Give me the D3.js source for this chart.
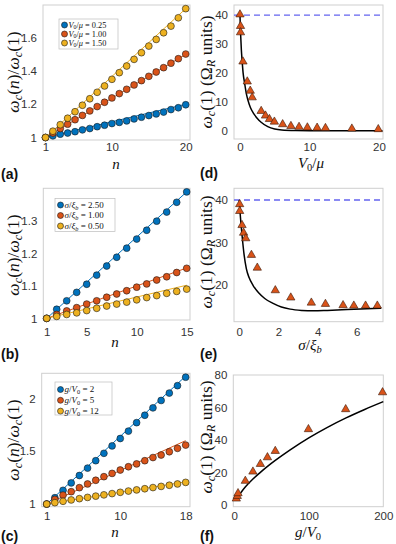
<!DOCTYPE html>
<html>
<head>
<meta charset="utf-8">
<script src="https://cdn.jsdelivr.net/npm/d3@7"></script>
<style>
  body { margin: 0; background: #fff; }
  svg { display: block; }
</style>
</head>
<body>
<svg id="fig" width="396" height="544"></svg>
<script>
// ---- data ----
const nA = [1,2,3,4,5,6,7,8,9,10,11,12,13,14,15,16,17,18,19,20];
const aBlue   = [1.000,1.010,1.020,1.027,1.035,1.046,1.054,1.065,1.074,1.084,1.091,1.100,1.112,1.122,1.132,1.142,1.153,1.168,1.179,1.197];
const aRed    = [1.000,1.027,1.054,1.080,1.107,1.133,1.160,1.186,1.212,1.238,1.264,1.290,1.316,1.342,1.368,1.394,1.420,1.447,1.474,1.502];
const aYellow = [1.000,1.038,1.077,1.116,1.155,1.194,1.233,1.272,1.310,1.350,1.390,1.430,1.470,1.510,1.550,1.590,1.630,1.670,1.720,1.775];
const aFitEnd = [1.200, 1.500, 1.775];
const aLegend = ['0.25', '1.00', '1.50'];

const nB = [1,2,3,4,5,6,7,8,9,10,11,12,13,14,15];
const bBlue   = [1.000,1.028,1.054,1.080,1.105,1.133,1.161,1.188,1.216,1.244,1.271,1.299,1.327,1.357,1.389];
const bRed    = [1.000,1.012,1.023,1.033,1.044,1.054,1.065,1.075,1.085,1.096,1.106,1.118,1.128,1.141,1.154];
const bYellow = [1.000,1.006,1.012,1.017,1.024,1.031,1.038,1.044,1.050,1.057,1.064,1.070,1.077,1.083,1.090];
const bFitEnd = [1.389, 1.155, 1.102];
const bLegend = ['2.50', '1.00', '0.50'];

const nC = [1,2,3,4,5,6,7,8,9,10,11,12,13,14,15,16,17,18];
const cBlue   = [1.00,1.06,1.13,1.20,1.27,1.34,1.41,1.48,1.55,1.62,1.69,1.77,1.84,1.91,1.98,2.05,2.12,2.20];
const cRed    = [1.000,1.044,1.085,1.117,1.155,1.190,1.225,1.259,1.290,1.322,1.353,1.380,1.410,1.440,1.464,1.495,1.527,1.558];
const cYellow = [1.000,1.013,1.026,1.039,1.051,1.063,1.075,1.087,1.099,1.111,1.123,1.134,1.145,1.156,1.167,1.178,1.190,1.205];
const cFitEnd = [2.210, 1.600, 1.210];
const cLegend = ['2', '5', '12'];

const dX = [0.0,0.08,0.08,0.43,1.05,1.48,1.76,3.05,3.67,4.24,4.95,6.14,7.33,8.5,9.7,11.1,12.3,16.1,19.9];
const dY = [40.2,36.2,34.0,23.9,17.0,13.8,11.5,6.8,5.2,4.0,3.1,2.2,1.6,1.3,1.1,1.0,0.9,0.7,0.5];
const dCurveX = [0,0.05,0.1,0.2,0.3,0.45,0.67,0.9,1.14,1.5,2.0,2.5,3,4,5,6,8,10,14,20.5];
const dCurveY = [40,36,33,27.9,24.5,20,16.4,13,10.6,8,5.8,4.2,3,1.4,0.6,0.25,0.05,0,0,0];

const eX = [0.02,0.02,0.14,0.22,0.33,0.62,0.92,1.84,2.63,3.68,4.4,5.3,5.85,6.45,7.05];
const eY = [39.0,37.4,34.1,32.3,31.0,27.1,24.1,18.8,17.1,15.9,15.6,15.3,15.2,15.2,15.2];
const eCurveX = [0,0.05,0.14,0.25,0.36,0.5,0.7,1.0,1.3,1.7,2.15,2.6,3.2,3.8,4.5,5.5,6.5,7.25];
const eCurveY = [40,36.5,31.8,27,23.9,21.8,20,18.2,16.9,15.8,14.9,14.4,14.1,14.0,14.1,14.3,14.5,14.6];

const fX = [2.7,4,5,14.8,25,35,44.5,55,99.5,149.5,199];
const fY = [3.9,5.5,7.2,14.8,20.5,25.2,29.3,33.2,46.6,58.9,69.3];
const fCurveX = [3,5,10,15,25,35,45,55,75,100,125,150,175,200];
const fCurveY = [3.4,5.0,8.3,11.2,16.0,20.1,23.9,27.4,33.9,41.3,47.8,53.6,58.8,63.6];

const limitLine = 40;

// ---- styling ----
const colors = ['#0072BD', '#D95319', '#EDB120'];
const tickFont = "'Liberation Sans', Arial, sans-serif";
const mathFont = "'Liberation Serif', 'Times New Roman', serif";
const svg = d3.select('#fig');

// math-ish text: parts are [string, style]; style i=italic, r=roman, si/sr=subscript
function mathText(g, parts, size) {
    const t = g.append('text')
        .attr('font-family', mathFont)
        .attr('font-size', size)
        .attr('fill', '#111');
    let sub = false;
    parts.forEach(([s, st]) => {
        const isSub = st[0] === 's' && st.length === 2;
        const ts = t.append('tspan').text(s)
            .attr('font-style', st.endsWith('i') ? 'italic' : 'normal');
        if (isSub) ts.attr('font-size', size * 0.7);
        if (isSub && !sub) ts.attr('dy', size * 0.18);
        if (!isSub && sub) ts.attr('dy', -size * 0.18);
        sub = isSub;
    });
    return t;
}

function panel(o) {
    const x = d3.scaleLinear().domain(o.xdom).range([o.left, o.right]);
    const y = d3.scaleLinear().domain(o.ydom).range([o.bottom, o.top]);

    svg.append('rect')
        .attr('x', o.left).attr('y', o.top)
        .attr('width', o.right - o.left).attr('height', o.bottom - o.top)
        .attr('fill', '#fff').attr('stroke', '#cfcfcf').attr('stroke-width', 1);

    const xa = svg.append('g')
        .attr('transform', `translate(0, ${o.bottom})`)
        .call(d3.axisBottom(x).tickValues(o.xticks).tickSize(0).tickPadding(o.xpad).tickFormat(d3.format('~g')));
    const ya = svg.append('g')
        .attr('transform', `translate(${o.left}, 0)`)
        .call(d3.axisLeft(y).tickValues(o.yticks).tickSize(0).tickPadding(6).tickFormat(d3.format('~g')));
    [xa, ya].forEach(a => {
        a.select('.domain').remove();
        a.attr('font-family', tickFont).attr('font-size', 11.5);
        a.selectAll('text').attr('fill', '#333');
    });

    const plot = svg.append('g');
    return {x, y, plot};
}

function fitLine(p, x0, x1, y1, color) {
    p.plot.append('path')
        .datum([[x0, 1], [x1, y1]])
        .attr('d', d3.line().x(d => p.x(d[0])).y(d => p.y(d[1])))
        .attr('fill', 'none').attr('stroke', color).attr('stroke-width', 1);
}

function dots(p, xs, ys, color) {
    p.plot.append('g').selectAll('circle')
        .data(xs.map((v, i) => [v, ys[i]]))
        .join('circle')
        .attr('cx', d => p.x(d[0])).attr('cy', d => p.y(d[1]))
        .attr('r', 3.4)
        .attr('fill', color).attr('stroke', '#1a1a1a').attr('stroke-width', 0.6);
}

function triangles(p, xs, ys) {
    p.plot.append('g').selectAll('path')
        .data(xs.map((v, i) => [v, ys[i]]))
        .join('path')
        .attr('d', d3.symbol(d3.symbolTriangle, 30))
        .attr('transform', d => `translate(${p.x(d[0])}, ${p.y(d[1])})`)
        .attr('fill', colors[1]).attr('stroke', '#3a1a0a').attr('stroke-width', 0.6);
}

function curve(p, xs, ys) {
    p.plot.append('path')
        .datum(xs.map((v, i) => [v, ys[i]]))
        .attr('d', d3.line().x(d => p.x(d[0])).y(d => p.y(d[1])).curve(d3.curveMonotoneX))
        .attr('fill', 'none').attr('stroke', '#000').attr('stroke-width', 1.5);
}

function dashed(p, val) {
    const [x0, x1] = p.x.range();
    p.plot.append('line')
        .attr('x1', x0).attr('x2', x1)
        .attr('y1', p.y(val)).attr('y2', p.y(val))
        .attr('stroke', '#6464f0').attr('stroke-width', 1.3)
        .attr('stroke-dasharray', '6,4');
}

function legend(box, rows, prefix) {
    svg.append('rect')
        .attr('x', box.x).attr('y', box.y).attr('width', box.w).attr('height', box.h)
        .attr('fill', '#fff').attr('stroke', '#bdbdbd').attr('stroke-width', 0.7);
    rows.forEach((r, i) => {
        const cy = box.y + box.first + i * box.step;
        svg.append('circle')
            .attr('cx', box.x + 5.5).attr('cy', cy).attr('r', 3)
            .attr('fill', colors[i]).attr('stroke', '#1a1a1a').attr('stroke-width', 0.6);
        mathText(svg, prefix.concat([[' = ' + r, 'r']]), box.fs)
            .attr('x', box.x + 9.5).attr('y', cy + box.fs * 0.33);
    });
}

function yLabel(parts, x, y) {
    mathText(svg, parts, 17.5)
        .attr('text-anchor', 'middle')
        .attr('transform', `translate(${x}, ${y}) rotate(-90)`);
}

function xLabel(parts, x, y) {
    mathText(svg, parts, 15).attr('text-anchor', 'middle').attr('x', x).attr('y', y);
}

function tag(s, x, y) {
    svg.append('text').text(s)
        .attr('x', x).attr('y', y)
        .attr('font-family', tickFont).attr('font-weight', 'bold')
        .attr('font-size', 14).attr('fill', '#111');
}

const ratioLabel = [['ω', 'i'], ['c', 'si'], ['(', 'r'], ['n', 'i'], [')/', 'r'], ['ω', 'i'], ['c', 'si'], ['(1)', 'r']];
const freqLabel = [['ω', 'i'], ['c', 'si'], ['(1) (Ω', 'r'], ['R', 'si'], [' units)', 'r']];

// ---- (a) ----
const pa = panel({left: 43, right: 190, top: 5, bottom: 140,
    xdom: [0.66, 20.58], ydom: [0.985, 1.797],
    xticks: [1, 10, 20], yticks: [1, 1.2, 1.4, 1.6], xpad: 3.3});
[aBlue, aRed, aYellow].forEach((s, i) => fitLine(pa, nA[0], nA[nA.length - 1], aFitEnd[i], colors[i]));
[aBlue, aRed, aYellow].forEach((s, i) => dots(pa, nA, s, colors[i]));
legend({x: 59, y: 19, w: 59, h: 30, first: 6, step: 9, fs: 8.3}, aLegend, [['V', 'i'], ['0', 'sr'], ['/', 'r'], ['μ', 'i']]);
yLabel(ratioLabel, 19, 72);
xLabel([['n', 'i']], 116, 168.5);
tag('(a)', 1, 179);

// ---- (b) ----
const pb = panel({left: 43.3, right: 190, top: 188.3, bottom: 320,
    xdom: [0.66, 15.33], ydom: [0.995, 1.4],
    xticks: [1, 5, 10, 15], yticks: [1, 1.1, 1.2, 1.3], xpad: 7.5});
[bBlue, bRed, bYellow].forEach((s, i) => fitLine(pb, nB[0], nB[nB.length - 1], bFitEnd[i], colors[i]));
[bBlue, bRed, bYellow].forEach((s, i) => dots(pb, nB, s, colors[i]));
legend({x: 55, y: 198.5, w: 60, h: 33, first: 6.5, step: 10.5, fs: 9}, bLegend, [['σ', 'i'], ['/', 'r'], ['ξ', 'i'], ['b', 'si']]);
yLabel(ratioLabel, 19, 255);
xLabel([['n', 'i']], 115, 347);
tag('(b)', 1, 359);

// ---- (c) ----
const pc = panel({left: 41.7, right: 190, top: 373.3, bottom: 506.7,
    xdom: [0.39, 18.53], ydom: [0.975, 2.237],
    xticks: [1, 10, 18], yticks: [1, 1.5, 2], xpad: 5});
[cBlue, cRed, cYellow].forEach((s, i) => fitLine(pc, nC[0], nC[nC.length - 1], cFitEnd[i], colors[i]));
[cBlue, cRed, cYellow].forEach((s, i) => dots(pc, nC, s, colors[i]));
legend({x: 55, y: 382, w: 57, h: 33, first: 7.5, step: 10.8, fs: 9}, cLegend, [['g', 'i'], ['/', 'r'], ['V', 'i'], ['0', 'sr']]);
yLabel(ratioLabel, 19, 440);
xLabel([['n', 'i']], 115, 537);
tag('(c)', 1, 541);

// ---- (d) ----
const pd = panel({left: 234, right: 383, top: 5, bottom: 139,
    xdom: [-0.86, 20.58], ydom: [-2.87, 43.49],
    xticks: [0, 10, 20], yticks: [0, 10, 20, 30, 40], xpad: 4});
dashed(pd, limitLine);
curve(pd, dCurveX, dCurveY);
triangles(pd, dX, dY);
yLabel(freqLabel, 212, 72);
xLabel([['V', 'i'], ['0', 'sr'], ['/', 'r'], ['μ', 'i']], 311, 168);
tag('(d)', 200, 178);

// ---- (e) ----
const pe = panel({left: 234, right: 383, top: 188.3, bottom: 321.7,
    xdom: [-0.27, 7.34], ydom: [11.45, 42.75],
    xticks: [0, 2, 4, 6], yticks: [20, 30, 40], xpad: 6});
dashed(pe, limitLine);
curve(pe, eCurveX, eCurveY);
triangles(pe, eX, eY);
yLabel(freqLabel, 212, 252);
xLabel([['σ', 'i'], ['/', 'r'], ['ξ', 'i'], ['b', 'si']], 310, 350);
tag('(e)', 200, 359);

// ---- (f) ----
const pf = panel({left: 233.3, right: 383.3, top: 375, bottom: 506.7,
    xdom: [-1.34, 200], ydom: [-1.05, 80],
    xticks: [0, 100, 200], yticks: [0, 20, 40, 60, 80], xpad: 5.5});
curve(pf, fCurveX, fCurveY);
triangles(pf, fX, fY);
yLabel(freqLabel, 212, 437);
xLabel([['g', 'i'], ['/', 'r'], ['V', 'i'], ['0', 'sr']], 308, 537);
tag('(f)', 200, 541);
</script>
</body>
</html>
